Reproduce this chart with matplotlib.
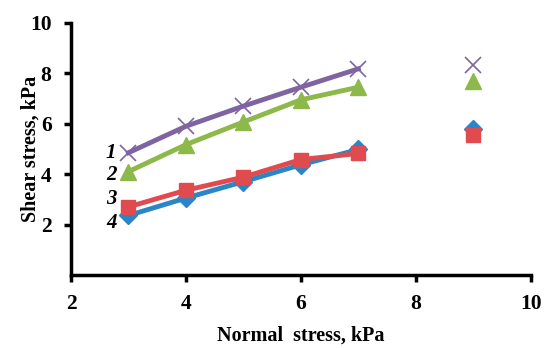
import matplotlib.pyplot as plt

# normal stress, kPa
x_line = [3, 4, 5, 6, 7]
x_extra = [9]

# shear stress, kPa (curves 1..4)
s1 = [4.85, 5.9, 6.7, 7.45, 8.18]
s2 = [4.1, 5.17, 6.07, 6.95, 7.45]
s3 = [2.7, 3.36, 3.88, 4.58, 4.82]
s4 = [2.36, 3.05, 3.7, 4.37, 4.98]
e1 = [8.33]
e2 = [7.7]
e3 = [5.56]
e4 = [5.78]

curve_labels = ['1', '2', '3', '4']
label_y = [4.85, 3.98, 3.0, 2.05]

xticks = [2, 4, 6, 8, 10]
yticks = [2, 4, 6, 8, 10]

purple = '#8064A2'
green = '#8DB84A'
red = '#E04B4F'
blue = '#2A86C8'

plt.rcParams['font.family'] = ['Liberation Serif', 'DejaVu Serif']
plt.rcParams['font.weight'] = 'bold'

fig = plt.figure(figsize=(5.5, 3.48), dpi=100)
ax = fig.add_axes([0.129, 0.21, 0.836, 0.724])

ax.plot(x_line, s1, color=purple, lw=3.5, marker='x', ms=11, mew=1.2, zorder=3)
ax.plot(x_line, s2, color=green, lw=3.5, marker='^', ms=11, zorder=3)
ax.plot(x_line, s4, color=blue, lw=3.5, marker='D', ms=9, zorder=3)
ax.plot(x_line, s3, color=red, lw=3.5, marker='s', ms=10, zorder=4)

ax.plot(x_extra, e1, color=purple, ls='none', marker='x', ms=11, mew=1.2)
ax.plot(x_extra, e2, color=green, ls='none', marker='^', ms=11)
ax.plot(x_extra, e4, color=blue, ls='none', marker='D', ms=9)
ax.plot(x_extra, e3, color=red, ls='none', marker='s', ms=10)

for lab, yy in zip(curve_labels, label_y):
    ax.text(2.7, yy, lab, fontsize=15, style='italic', fontweight='bold',
            ha='center', va='center')

ax.set_xlim(2, 10)
ax.set_ylim(0, 10)
ax.set_xticks(xticks)
ax.set_xticklabels([str(v) for v in xticks], fontweight='bold', fontsize=15.5)
ax.set_yticks(yticks)
ax.set_yticklabels([str(v) for v in yticks], fontweight='bold', fontsize=15.5)

for s in ['top', 'right']:
    ax.spines[s].set_visible(False)
for s in ['left', 'bottom']:
    ax.spines[s].set_linewidth(2.5)
ax.tick_params(width=2.5, length=5, pad=9)

ax.set_xlabel('Normal  stress, kPa', fontsize=14.5, fontweight='bold', labelpad=8)
ax.set_ylabel('Shear stress, kPa', fontsize=14.5, fontweight='bold')
ax.yaxis.set_label_coords(-0.067, 0.5)

fig.savefig('out.png', dpi=100)
